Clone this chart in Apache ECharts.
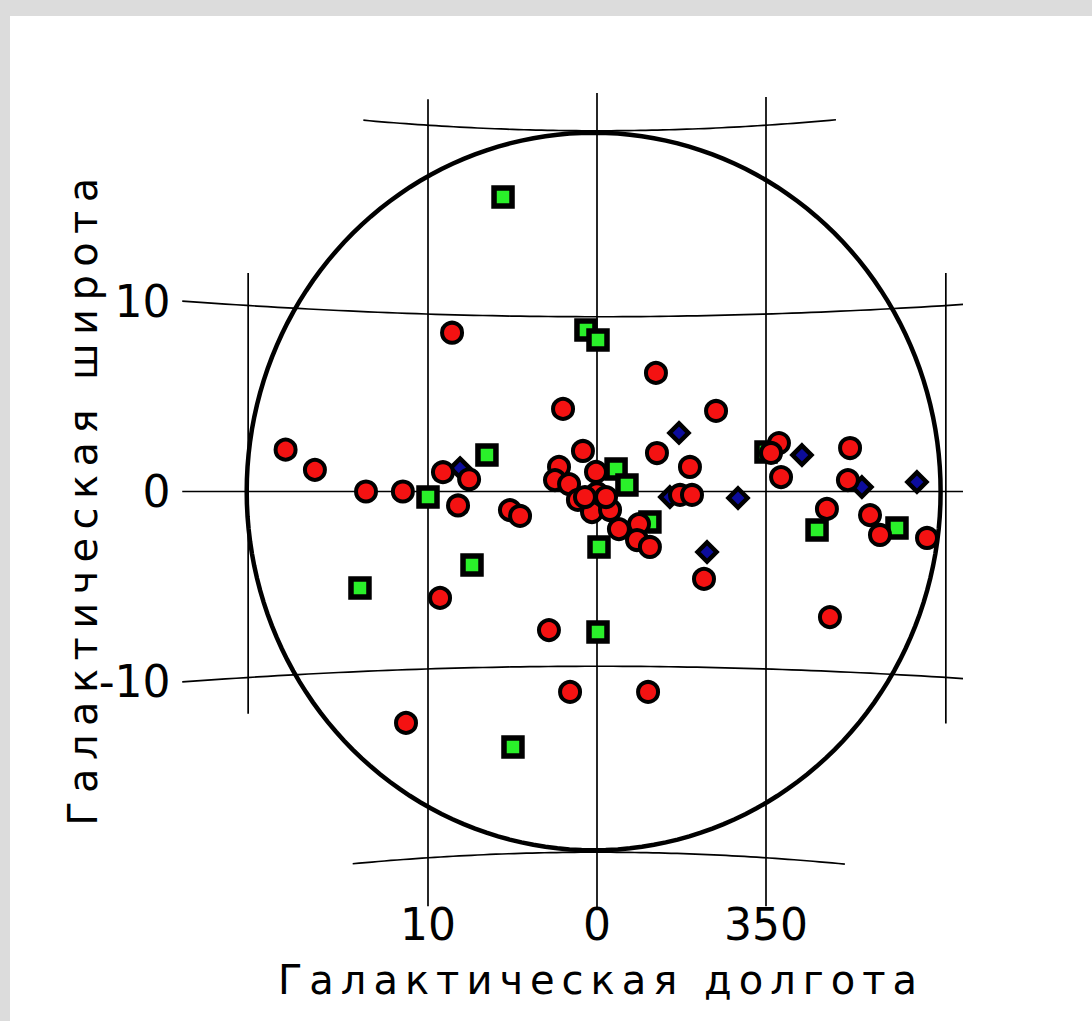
<!DOCTYPE html>
<html>
<head>
<meta charset="utf-8">
<script src="https://cdn.jsdelivr.net/npm/echarts@6/dist/echarts.min.js"></script>
<style>
  html, body { margin: 0; padding: 0; background: #dcdcdc; }
  #chart { width: 1092px; height: 1021px; }
</style>
</head>
<body>
<div id="chart"></div>
<script>
// Galactic coordinates (degrees) of the sources, one pair of arrays per type
const redLon = [18.0, 16.4, 13.55, 11.45, 9.13, 7.6, 8.25, 9.3, 8.6, 5.19, 4.59, 2.03, 0.84, 2.27, 2.51, 1.67,
  0.06, 0.0, 1.14, 0.3, 359.22, 0.72, 359.46, 358.69, 357.49, 357.61, 356.84, 356.48, 356.42, 354.46, 355.05,
  354.34, 352.92, 353.63, 349.25, 349.71, 349.13, 345.21, 345.33, 346.51, 344.1, 343.55, 341.0, 346.34, 2.87,
  1.61, 356.95, 11.27];
const redLat = [2.3, 1.2, 0.0, 0.0, 1.1, 0.7, -0.8, -6.05, 9.0, -1.07, -1.41, 4.76, 2.34, 1.42, 0.66, 0.43,
  1.13, -0.1, -0.49, -1.19, -1.07, -0.32, -0.32, -2.17, -1.88, -2.8, -3.2, 6.81, 2.22, 1.41, -0.2,
  -0.2, 4.61, -5.01, 2.75, 2.19, 0.82, 2.43, 0.64, -0.98, -1.31, -2.41, -2.54, -7.02, -7.95,
  -11.43, -11.42, -12.9];

const greenLon = [5.6, 0.66, 359.94, 6.55, 10.0, 13.89, 7.43, 359.88, 359.94, 5.01, 358.86, 358.21, 356.84,
  347.07, 342.62, 350.0];
const greenLat = [16.47, 9.26, 8.69, 2.1, -0.31, -5.4, -4.21, -3.21, -8.07, -14.4, 1.3, 0.38, -1.76,
  -2.17, -2.01, 2.25];

const blueLon = [355.11, 347.93, 344.55, 341.54, 351.63, 353.45, 355.65, 8.13];
const blueLat = [3.37, 2.06, 0.25, 0.52, -0.37, -3.47, -0.32, 1.34];

// Graticule: tick values (degrees)
const lonTicks = [10, 0, 350];
const latTicks = [10, 0, -10];

// Field of view: centre longitude and angular radius (degrees)
const fieldCenterLon = 0.2;
const fieldRadius = 19.9;

// ---- gnomonic projection centred on l = 0, b = 0 ----
const D2R = Math.PI / 180;
const T10 = Math.tan(10 * D2R);
const toAxis = t => t / T10 * 10;           // tangent-plane value -> axis units
const signedLon = l => (l > 180 ? l - 360 : l);

function project(l, b) {
  const lr = signedLon(l) * D2R;
  return [toAxis(Math.tan(lr)), toAxis(Math.tan(b * D2R) / Math.cos(lr))];
}

// extents of graticule lines (degrees)
const meridians = [
  { lon: 20, from: -11.9, to: 11.7 },
  { lon: 10, from: -22.4, to: 21.3 },
  { lon: 0, from: -22.9, to: 21.9 },
  { lon: -10, from: -22.4, to: 21.4 },
  { lon: -20, from: -12.4, to: 11.7 }
];
const parallelLeft = 23.4, parallelRight = -20.9;
const parallels = [
  { lat: 20, from: 13.7, to: -14.0 },
  { lat: 10, from: parallelLeft, to: parallelRight },
  { lat: 0, from: parallelLeft, to: parallelRight },
  { lat: -10, from: parallelLeft, to: parallelRight },
  { lat: -20, from: 14.3, to: -14.5 }
];

const xLabelValues = lonTicks.map(l => project(l, 0)[0]);
const yLabelValues = latTicks.map(b => project(parallelLeft, b)[1]);

function lonLabel(v) {
  let l = Math.round(Math.atan(v * T10 / 10) / D2R);
  if (l < 0) l += 360;
  return String(l);
}
function latLabel(v) {
  const b = Math.atan(v * T10 / 10 * Math.cos(parallelLeft * D2R)) / D2R;
  return String(Math.round(b));
}

const toPoints = (lons, lats) => lons.map((l, i) => project(l, lats[i]));

const FONT = 'DejaVu Sans';

function renderGraticule(params, api) {
  const children = [];
  const lineStyle = { stroke: '#000', lineWidth: 1.7, fill: null };
  meridians.forEach(m => {
    const pts = [];
    for (let s = 0; s <= 40; s++) {
      const b = m.from + (m.to - m.from) * s / 40;
      pts.push(api.coord(project(m.lon, b)));
    }
    children.push({ type: 'polyline', shape: { points: pts }, style: lineStyle });
  });
  parallels.forEach(p => {
    const pts = [];
    for (let s = 0; s <= 80; s++) {
      const l = p.from + (p.to - p.from) * s / 80;
      pts.push(api.coord(project(l, p.lat)));
    }
    children.push({ type: 'polyline', shape: { points: pts }, style: lineStyle });
  });
  return { type: 'group', children };
}

function renderField(params, api) {
  const u0 = Math.tan(fieldCenterLon * D2R);
  const r = Math.tan(fieldRadius * D2R);
  const pts = [];
  for (let a = 0; a <= 360; a += 2) {
    const t = a * D2R;
    pts.push(api.coord([toAxis(u0 + r * Math.cos(t)), toAxis(r * Math.sin(t))]));
  }
  return { type: 'polyline', shape: { points: pts }, style: { stroke: '#000', lineWidth: 4.5, fill: null } };
}

const chart = echarts.init(document.getElementById('chart'), null, { renderer: 'svg' });

const option = {
  animation: false,
  backgroundColor: '#dcdcdc',
  graphic: [{
    type: 'rect', z: -100, silent: true,
    shape: { x: 10, y: 16, width: 1082, height: 1005 },
    style: { fill: '#ffffff' }
  }],
  grid: { left: 174.5, right: 72.5, top: 72.1, bottom: 110.1, containLabel: false },
  xAxis: {
    type: 'value', min: -25, max: 25, inverse: true,
    axisLine: { show: false }, axisTick: { show: false }, splitLine: { show: false },
    axisLabel: {
      customValues: xLabelValues, formatter: lonLabel,
      fontSize: 44, fontFamily: FONT, color: '#000', margin: -8
    },
    name: 'Галактическая долгота', nameLocation: 'middle', nameGap: 49,
    nameTextStyle: { fontSize: 40, fontFamily: FONT, color: '#000', padding: [0, 0, 0, 8] }
  },
  yAxis: {
    type: 'value', min: -24, max: 24,
    axisLine: { show: false }, axisTick: { show: false }, splitLine: { show: false },
    axisLabel: {
      customValues: yLabelValues, formatter: latLabel,
      fontSize: 44, fontFamily: FONT, color: '#000', margin: 4
    },
    name: 'Галактическая широта', nameLocation: 'middle', nameGap: 72, nameMoveOverlap: false,
    nameTextStyle: { fontSize: 40, fontFamily: FONT, color: '#000', padding: [0, 12, 0, 0] }
  },
  series: [
    { type: 'custom', silent: true, clip: false, renderItem: renderGraticule, data: [[0, 0]], z: 1 },
    { type: 'custom', silent: true, clip: false, renderItem: renderField, data: [[0, 0]], z: 2 },
    {
      type: 'scatter', z: 3, data: toPoints(blueLon, blueLat),
      symbol: 'diamond', symbolSize: 19,
      itemStyle: { color: '#0c0c9c', borderColor: '#000', borderWidth: 4.5, opacity: 1 }
    },
    {
      type: 'scatter', z: 4, data: toPoints(greenLon, greenLat),
      symbol: 'rect', symbolSize: 18,
      itemStyle: { color: '#2af02a', borderColor: '#000', borderWidth: 5.5, opacity: 1 }
    },
    {
      type: 'scatter', z: 5, data: toPoints(redLon, redLat),
      symbol: 'circle', symbolSize: 20,
      itemStyle: { color: '#f41212', borderColor: '#000', borderWidth: 4, opacity: 1 }
    }
  ]
};

chart.setOption(option);

// widen letter spacing of the two axis titles
const titleSpacing = { 'Галактическая долгота': '7px', 'Галактическая широта': '8.4px' };
function spaceTitles() {
  document.querySelectorAll('#chart svg text').forEach(t => {
    const s = titleSpacing[t.textContent.trim()];
    if (s) {
      t.setAttribute('letter-spacing', s);
      t.style.letterSpacing = s;
    }
  });
}
chart.on('finished', spaceTitles);
spaceTitles();
</script>
</body>
</html>
